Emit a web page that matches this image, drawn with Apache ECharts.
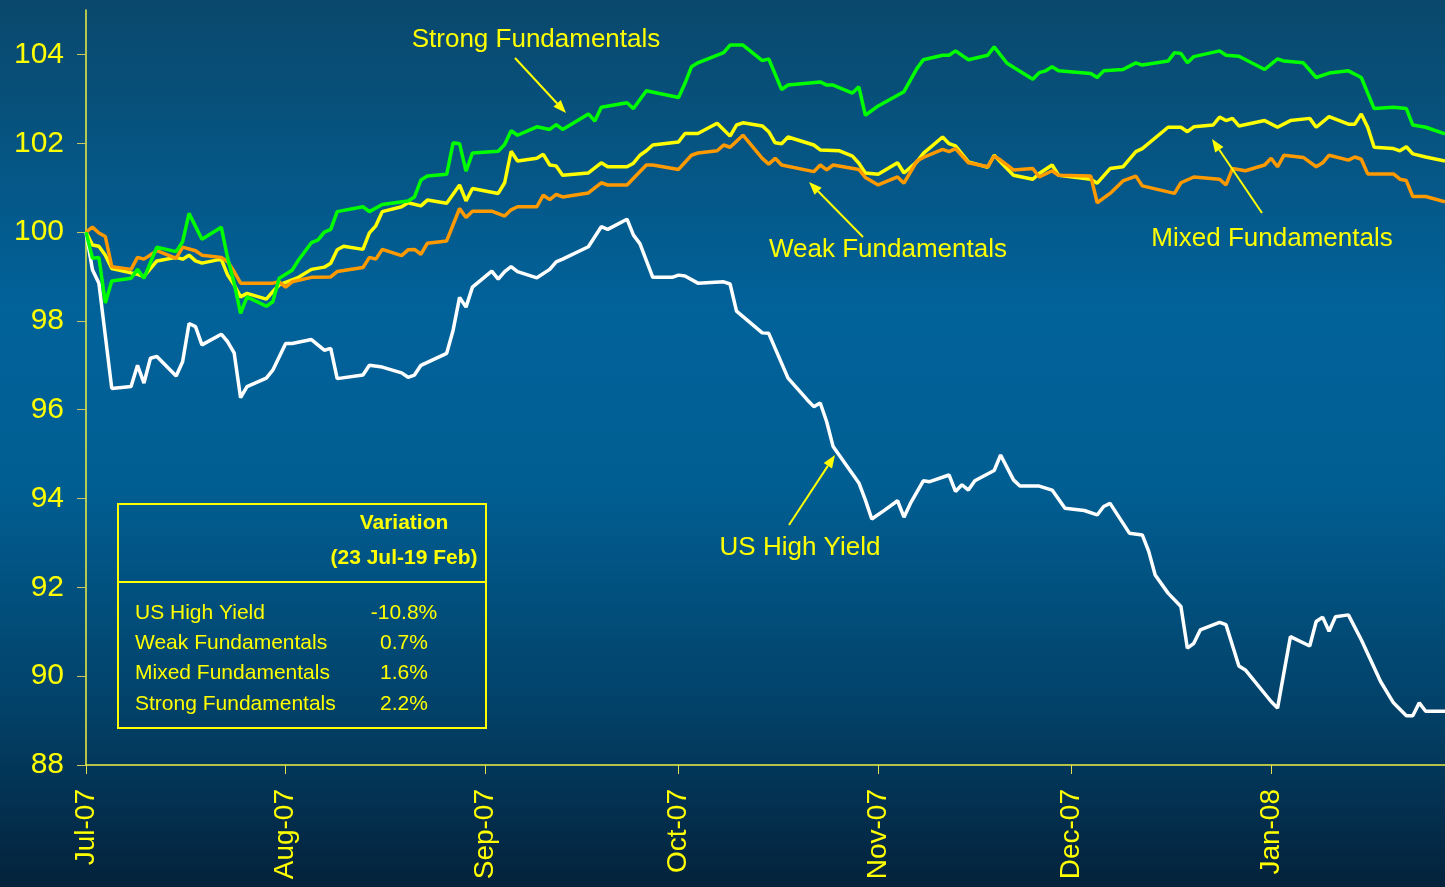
<!DOCTYPE html>
<html>
<head>
<meta charset="utf-8">
<title>US High Yield vs Emerging Fundamentals</title>
<script src="https://cdn.jsdelivr.net/npm/echarts@6/dist/echarts.min.js"></script>
<style>
  html, body { margin: 0; padding: 0; background: #02304f; }
  #chart { width: 1445px; height: 887px; }
</style>
</head>
<body>
<div id="chart"></div>
<script>
// x values: days after 23 Jul 2007 (index = 100 on that day)
var monthTicks = [0, 31, 62, 92, 123, 153, 184];
var monthLabels = ['Jul-07', 'Aug-07', 'Sep-07', 'Oct-07', 'Nov-07', 'Dec-07', 'Jan-08'];
var yTicks = [88, 90, 92, 94, 96, 98, 100, 102, 104];

var hyDays = [0, 1, 2, 4, 7, 8, 9, 10, 11, 14, 15, 16, 17, 18, 21, 22, 23, 24, 25, 28, 29, 31, 32, 35, 37, 38, 39,
  43, 44, 46, 49, 50, 51, 52, 56, 57, 58, 59, 60, 63, 64, 65, 66, 67, 70, 72, 73, 74, 78, 80, 81, 84, 85, 86, 88,
  91, 92, 93, 95, 99, 100, 101, 105, 106, 107, 109, 112, 113, 114, 115, 116, 120, 121, 122, 124, 126, 127, 128,
  130, 131, 134, 135, 136, 137, 138, 141, 142, 144, 145, 148, 150, 152, 155, 157, 158, 159, 162, 164, 165, 166,
  168, 170, 171, 172, 173, 176, 177, 179, 180, 184, 185, 187, 190, 191, 192, 193, 194, 196, 198, 201, 203, 205,
  206, 207, 208, 211];
var hyValues = [100.0, 99.15, 98.85, 96.48, 96.52, 97.0, 96.6, 97.16, 97.2, 96.76, 97.08, 97.94, 97.87, 97.46,
  97.7, 97.53, 97.28, 96.27, 96.52, 96.71, 96.89, 97.49, 97.49, 97.58, 97.34, 97.38, 96.7,
  96.78, 97.0, 96.96, 96.83, 96.73, 96.78, 97.0, 97.27, 97.79, 98.53, 98.31, 98.76, 99.12, 98.94, 99.11, 99.22,
  99.11, 98.97, 99.16, 99.33, 99.39, 99.67, 100.12, 100.06, 100.29, 99.93, 99.74, 98.98,
  98.98, 99.03, 99.01, 98.85, 98.88, 98.83, 98.22, 97.73, 97.72, 97.38, 96.71, 96.22, 96.07, 96.15, 95.73, 95.17,
  94.35, 93.97, 93.54, 93.74, 93.95, 93.58, 93.89,
  94.4, 94.38, 94.53, 94.16, 94.31, 94.19, 94.4, 94.63, 94.98, 94.42, 94.28, 94.28, 94.19, 93.78, 93.73, 93.63,
  93.82, 93.89, 93.22, 93.18, 92.81, 92.28,
  91.87, 91.57, 90.63, 90.74, 91.04, 91.21, 91.16, 90.23, 90.14, 89.43, 89.28, 90.89, 90.68, 91.23, 91.33, 91.01,
  91.34, 91.38, 90.82, 89.88, 89.4, 89.11,
  89.11, 89.4, 89.21, 89.21];

var weakDays = [0, 1, 2, 3, 4, 7, 8, 9, 11, 14, 15, 17, 18, 21, 22, 23, 24, 29, 30, 31, 32, 35, 38, 39, 43, 44,
  45, 46, 49, 50, 51, 52, 53, 56, 58, 59, 60, 63, 65, 66, 67, 70, 71, 72, 73, 74, 78, 80, 81, 84, 87, 88, 92, 94,
  95, 98, 99, 100, 102, 105, 106, 107, 108, 113, 114, 115, 116, 120, 121, 123, 126, 127, 129, 130, 133, 134, 135,
  137, 140, 141, 142, 144, 147, 148, 150, 151, 156, 157, 159, 161, 163, 164, 169, 170, 172, 176, 177, 178, 180,
  183, 184, 185, 186, 189, 191, 192, 193, 196, 197, 198, 199, 203, 204, 205, 206, 208, 211];
var weakValues = [100.0, 100.11, 99.98, 99.9, 99.22, 99.16, 99.43, 99.39, 99.58, 99.41, 99.66, 99.58, 99.48,
  99.43, 99.33, 99.11, 98.85, 98.85, 98.88, 98.76, 98.88, 98.98, 98.99, 99.11, 99.2, 99.43,
  99.39, 99.61, 99.47, 99.6, 99.61, 99.5, 99.75, 99.8, 100.53, 100.33, 100.47, 100.47, 100.36, 100.5, 100.57,
  100.57, 100.83, 100.73, 100.85, 100.79, 100.88, 101.11, 101.06, 101.06, 101.51, 101.51, 101.41, 101.73,
  101.78, 101.83, 101.96, 101.91, 102.18, 101.66, 101.53, 101.66, 101.51, 101.36, 101.51, 101.4, 101.51, 101.41,
  101.23, 101.06, 101.24, 101.1, 101.6, 101.68, 101.86, 101.81, 101.88,
  101.56, 101.47, 101.71, 101.62, 101.4, 101.43, 101.24, 101.38, 101.28, 101.26, 100.66, 100.87, 101.15, 101.26,
  101.04, 100.87, 101.11, 101.24, 101.19, 101.06, 101.43, 101.38,
  101.51, 101.66, 101.47, 101.73, 101.68, 101.47, 101.56, 101.73, 101.62, 101.69, 101.64, 101.31, 101.31,
  101.19, 101.16, 100.8, 100.8, 100.68];

var mixedDays = [0, 1, 2, 3, 4, 7, 8, 9, 11, 14, 15, 16, 17, 18, 21, 22, 23, 24, 25, 28, 29, 30, 33, 35, 37, 38,
  39, 40, 43, 44, 45, 46, 49, 50, 52, 53, 56, 58, 59, 60, 64, 65, 66, 67, 70, 71, 72, 73, 74, 78, 80, 81, 84, 85,
  86, 87, 88, 92, 93, 95, 98, 100, 101, 102, 105, 106, 107, 108, 109, 113, 114, 117, 119, 120, 121, 123, 126,
  127, 129, 130, 133, 134, 135, 137, 140, 141, 144, 147, 148, 150, 151, 156, 157, 159, 161, 163, 164, 168, 170,
  171, 172, 175, 176, 177, 178, 179, 183, 185, 187, 190, 191, 193, 196, 197, 198, 199, 200, 203, 204, 205, 206,
  208, 211];
var mixedValues = [100.0, 99.71, 99.68, 99.48, 99.18, 99.08, 99.05, 99.0, 99.35, 99.43, 99.39, 99.48, 99.35,
  99.3, 99.39, 99.03, 98.81, 98.54, 98.62, 98.49, 98.66, 98.81, 98.98, 99.16, 99.21, 99.3,
  99.6, 99.68, 99.61, 99.98, 100.14, 100.46, 100.57, 100.66, 100.59, 100.72, 100.65, 101.06, 100.7, 100.98,
  100.87, 101.11, 101.82, 101.6, 101.66, 101.75, 101.51, 101.49, 101.28, 101.33, 101.56, 101.47, 101.47, 101.55,
  101.73, 101.83, 101.96, 102.03, 102.22, 102.22, 102.45, 102.16, 102.41, 102.46, 102.39, 102.26, 102.01,
  101.99, 102.14, 101.96, 101.85, 101.83, 101.71, 101.55, 101.33, 101.3, 101.56,
  101.33, 101.58, 101.77, 102.14, 101.99, 101.94, 101.58, 101.46, 101.73, 101.28, 101.19, 101.32, 101.51,
  101.28, 101.19, 101.1, 101.43, 101.47, 101.81, 101.88, 102.36, 102.36,
  102.26, 102.37, 102.41, 102.59, 102.51, 102.56, 102.39, 102.51, 102.36, 102.51, 102.56, 102.36, 102.6,
  102.43, 102.43, 102.66, 102.36, 101.91, 101.88, 101.83, 101.92, 101.76,
  101.69, 101.6];

var strongDays = [0, 1, 2, 3, 4, 7, 8, 9, 11, 14, 15, 16, 18, 21, 22, 23, 24, 25, 28, 29, 30, 32, 33, 35, 36, 37,
  38, 39, 43, 44, 46, 50, 51, 52, 53, 56, 57, 58, 59, 60, 64, 65, 66, 67, 70, 72, 73, 74, 78, 79, 80, 84, 85, 87,
  92, 93, 94, 95, 99, 100, 102, 105, 106, 108, 109, 114, 115, 116, 119, 120, 121, 123, 126, 127, 129, 130, 133,
  134, 135, 137, 140, 141, 143, 147, 148, 149, 150, 151, 156, 157, 158, 161, 163, 164, 168, 169, 170, 171, 172,
  176, 177, 179, 183, 185, 186, 189, 191, 193, 196, 198, 199, 200, 203, 205, 206, 208, 211];
var strongValues = [100.0, 99.41, 99.43, 98.4, 98.9, 98.96, 99.16, 98.96, 99.66, 99.56, 99.78, 100.42, 99.84,
  100.11, 99.41, 98.85, 98.17, 98.54, 98.33, 98.43, 98.96, 99.14, 99.37, 99.76, 99.82, 100.0,
  100.06, 100.46, 100.57, 100.46, 100.62, 100.7, 100.79, 101.17, 101.26, 101.3, 102.01, 101.99, 101.37, 101.78,
  101.82, 101.97, 102.28, 102.18, 102.37, 102.31, 102.42, 102.31, 102.66, 102.5, 102.81, 102.91, 102.78, 103.18,
  103.03, 103.35, 103.72, 103.81, 104.04, 104.21, 104.21, 103.86, 103.9, 103.21, 103.31, 103.38, 103.31, 103.31,
  103.13, 103.27, 102.63, 102.84, 103.08, 103.16, 103.68, 103.88, 103.98,
  103.98, 104.08, 103.88, 103.98, 104.17, 103.8, 103.44, 103.59, 103.63, 103.72, 103.63, 103.57, 103.48, 103.63,
  103.66, 103.81, 103.76, 103.85, 104.04, 104.02, 103.81, 103.95,
  104.08, 103.98, 103.96, 103.66, 103.9, 103.85, 103.81, 103.48, 103.58, 103.63, 103.48, 103.13, 102.78,
  102.81, 102.78, 102.41, 102.36, 102.21];

var tableNames = ['US High Yield', 'Weak Fundamentals', 'Mixed Fundamentals', 'Strong Fundamentals'];
var tableVariation = ['-10.8%', '0.7%', '1.6%', '2.2%'];

var YEL = '#ffff00';
var FONT = '"Liberation Sans", Arial, sans-serif';

function pairs(days, vals) {
  return days.map(function (d, i) { return [d, vals[i]]; });
}

function lineSeries(name, days, vals, color) {
  return {
    name: name,
    type: 'line',
    data: pairs(days, vals),
    showSymbol: false,
    symbol: 'none',
    lineStyle: { color: color, width: 3.5 },
    itemStyle: { color: color },
    animation: false
  };
}

function txt(x, y, s, size, align, bold) {
  return {
    type: 'text', x: x, y: y, z: 100,
    style: {
      text: s, fill: YEL, fontSize: size, fontFamily: FONT,
      fontWeight: bold ? 'bold' : 'normal',
      align: align || 'center', verticalAlign: 'middle'
    }
  };
}

function arrow(x1, y1, x2, y2) {
  var a = Math.atan2(y2 - y1, x2 - x1);
  var len = 13, half = 5;
  var bx = x2 - len * Math.cos(a), by = y2 - len * Math.sin(a);
  var px = -Math.sin(a) * half, py = Math.cos(a) * half;
  return [
    { type: 'line', z: 100, shape: { x1: x1, y1: y1, x2: bx, y2: by }, style: { stroke: YEL, lineWidth: 2 } },
    { type: 'polygon', z: 100, shape: { points: [[x2, y2], [bx + px, by + py], [bx - px, by - py]] }, style: { fill: YEL } }
  ];
}

var graphics = [];
// annotations
graphics.push(txt(536, 40, 'Strong Fundamentals', 26));
graphics = graphics.concat(arrow(515, 58, 566, 113));
graphics.push(txt(888, 250, 'Weak Fundamentals', 26));
graphics = graphics.concat(arrow(863, 237, 809, 182));
graphics.push(txt(1272, 239, 'Mixed Fundamentals', 26));
graphics = graphics.concat(arrow(1262, 213, 1212, 139));
graphics.push(txt(800, 548, 'US High Yield', 26));
graphics = graphics.concat(arrow(789, 525, 835, 455));

// variation box
graphics.push({ type: 'rect', z: 90, shape: { x: 118, y: 504, width: 368, height: 224 },
  style: { fill: 'none', stroke: YEL, lineWidth: 2 } });
graphics.push({ type: 'line', z: 90, shape: { x1: 118, y1: 582, x2: 486, y2: 582 },
  style: { stroke: YEL, lineWidth: 2 } });
graphics.push(txt(404, 523, 'Variation', 21, 'center', true));
graphics.push(txt(404, 558, '(23 Jul-19 Feb)', 21, 'center', true));
tableNames.forEach(function (n, i) {
  graphics.push(txt(135, 613 + i * 30.3, n, 21, 'left'));
  graphics.push(txt(404, 613 + i * 30.3, tableVariation[i], 21, 'center'));
});

var chart = echarts.init(document.getElementById('chart'), null, { renderer: 'canvas' });

var option = {
  animation: false,
  backgroundColor: {
    type: 'linear', x: 0, y: 0, x2: 0, y2: 1,
    colorStops: [
      { offset: 0, color: '#0a486c' },
      { offset: 0.35, color: '#01629a' },
      { offset: 0.55, color: '#015e92' },
      { offset: 0.8, color: '#024168' },
      { offset: 1, color: '#04223b' }
    ]
  },
  grid: { left: 86, right: 0, top: 10, bottom: 122 },
  xAxis: {
    type: 'value',
    min: 0,
    max: 211,
    axisLine: { show: true, lineStyle: { color: '#f0f040', width: 1.5 } },
    axisTick: { show: true, length: 9, customValues: monthTicks, lineStyle: { color: '#e0e050', width: 1 } },
    splitLine: { show: false },
    axisLabel: {
      customValues: monthTicks,
      rotate: 90,
      margin: 24,
      color: YEL,
      fontSize: 28,
      fontFamily: FONT,
      formatter: function (v) {
        var i = monthTicks.indexOf(v);
        return i >= 0 ? monthLabels[i] : '';
      }
    }
  },
  yAxis: {
    type: 'value',
    min: 88,
    max: 105,
    axisLine: { show: true, lineStyle: { color: '#f0f040', width: 1.5 } },
    axisTick: { show: true, length: 9, customValues: yTicks, lineStyle: { color: '#c8c860', width: 1 } },
    splitLine: { show: false },
    axisLabel: {
      customValues: yTicks,
      margin: 22,
      color: YEL,
      fontSize: 30,
      fontFamily: FONT
    }
  },
  series: [
    lineSeries('US High Yield', hyDays, hyValues, '#ffffff'),
    lineSeries('Mixed Fundamentals', mixedDays, mixedValues, '#ffff00'),
    lineSeries('Weak Fundamentals', weakDays, weakValues, '#ff9900'),
    lineSeries('Strong Fundamentals', strongDays, strongValues, '#00ff00')
  ],
  graphic: graphics
};

chart.setOption(option);
</script>
</body>
</html>
